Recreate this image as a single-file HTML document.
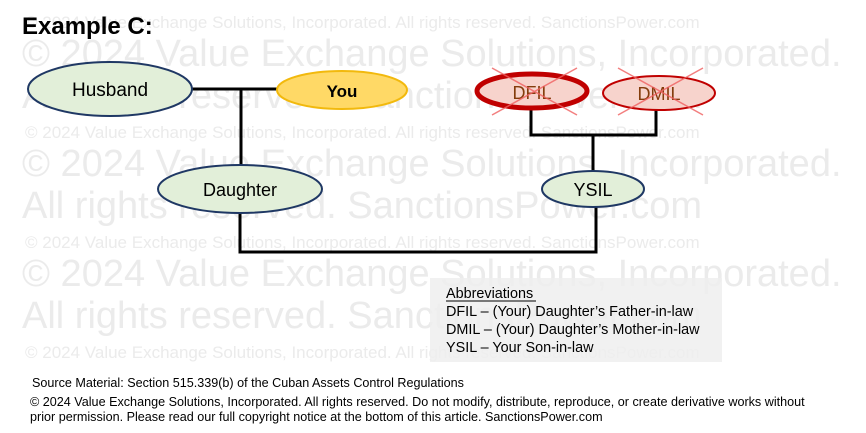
<!DOCTYPE html>
<html><head><meta charset="utf-8"><style>
html,body{margin:0;padding:0;background:#fff;}
svg{display:block;}
</style></head><body>
<svg width="866" height="433" viewBox="0 0 866 433" xmlns="http://www.w3.org/2000/svg">
<g fill="#ebebeb" font-family="Liberation Sans, sans-serif">
<text x="25" y="28" font-size="17">© 2024 Value Exchange Solutions, Incorporated. All rights reserved. SanctionsPower.com</text>
<text x="22" y="66" font-size="38">© 2024 Value Exchange Solutions, Incorporated.</text>
<text x="22" y="108" font-size="38">All rights reserved. SanctionsPower.com</text>
<text x="25" y="138" font-size="17">© 2024 Value Exchange Solutions, Incorporated. All rights reserved. SanctionsPower.com</text>
<text x="22" y="176" font-size="38">© 2024 Value Exchange Solutions, Incorporated.</text>
<text x="22" y="218" font-size="38">All rights reserved. SanctionsPower.com</text>
<text x="25" y="248" font-size="17">© 2024 Value Exchange Solutions, Incorporated. All rights reserved. SanctionsPower.com</text>
<text x="22" y="286" font-size="38">© 2024 Value Exchange Solutions, Incorporated.</text>
<text x="22" y="328" font-size="38">All rights reserved. SanctionsPower.com</text>
<text x="25" y="358" font-size="17">© 2024 Value Exchange Solutions, Incorporated. All rights reserved. SanctionsPower.com</text>
</g>
<text x="22" y="34" font-family="Liberation Sans, sans-serif" font-weight="bold" font-size="24" fill="#000">Example C:</text>
<rect x="430" y="278" width="292" height="84" fill="#eeeeee" opacity="0.85"/>
<g stroke="#000" stroke-width="3" fill="none">
<line x1="192" y1="89" x2="278" y2="89"/>
<line x1="241" y1="89" x2="241" y2="166"/>
<polyline points="240,213 240,252 596,252 596,207"/>
<polyline points="531,108 531,135 656,135 656,110"/>
<line x1="593" y1="135" x2="593" y2="172"/>
</g>
<ellipse cx="110" cy="89" rx="82" ry="27" fill="#e2efd9" stroke="#1f3864" stroke-width="2"/>
<text x="110" y="96" text-anchor="middle" font-family="Liberation Sans, sans-serif" font-size="19">Husband</text>
<ellipse cx="342" cy="90" rx="65" ry="19" fill="#ffd966" stroke="#f2b90d" stroke-width="2"/>
<text x="342" y="97" text-anchor="middle" font-family="Liberation Sans, sans-serif" font-weight="bold" font-size="17">You</text>
<ellipse cx="532" cy="91" rx="55" ry="17" fill="#f7d3cc" stroke="#c00000" stroke-width="5"/>
<text x="532" y="99" text-anchor="middle" font-family="Liberation Sans, sans-serif" font-size="18" fill="#843c0c">DFIL</text>
<ellipse cx="659" cy="93" rx="56" ry="17" fill="#f7d3cc" stroke="#c00000" stroke-width="2"/>
<text x="659" y="100" text-anchor="middle" font-family="Liberation Sans, sans-serif" font-size="18" fill="#843c0c">DMIL</text>
<g stroke="#f06060" stroke-width="1.5" opacity="0.8">
<line x1="492" y1="68" x2="577" y2="115"/><line x1="577" y1="68" x2="492" y2="115"/>
<line x1="618" y1="68" x2="703" y2="115"/><line x1="703" y1="68" x2="618" y2="115"/>
</g>
<ellipse cx="240" cy="189" rx="82" ry="24" fill="#e2efd9" stroke="#1f3864" stroke-width="2"/>
<text x="240" y="196" text-anchor="middle" font-family="Liberation Sans, sans-serif" font-size="18">Daughter</text>
<ellipse cx="593" cy="189" rx="51" ry="18" fill="#e2efd9" stroke="#1f3864" stroke-width="2"/>
<text x="593" y="196" text-anchor="middle" font-family="Liberation Sans, sans-serif" font-size="18">YSIL</text>
<g font-family="Liberation Sans, sans-serif" font-size="14.4" fill="#000">
<text x="446" y="298">Abbreviations</text>
<line x1="446" y1="301" x2="536" y2="301" stroke="#000" stroke-width="1"/>
<text x="446" y="316">DFIL – (Your) Daughter’s Father-in-law</text>
<text x="446" y="334">DMIL – (Your) Daughter’s Mother-in-law</text>
<text x="446" y="352">YSIL – Your Son-in-law</text>
</g>
<g font-family="Liberation Sans, sans-serif" font-size="12.6" fill="#000">
<text x="32" y="387">Source Material: Section 515.339(b) of the Cuban Assets Control Regulations</text>
<text x="30" y="406">© 2024 Value Exchange Solutions, Incorporated. All rights reserved. Do not modify, distribute, reproduce, or create derivative works without</text>
<text x="30" y="421">prior permission. Please read our full copyright notice at the bottom of this article.   SanctionsPower.com</text>
</g>
</svg>
</body></html>
